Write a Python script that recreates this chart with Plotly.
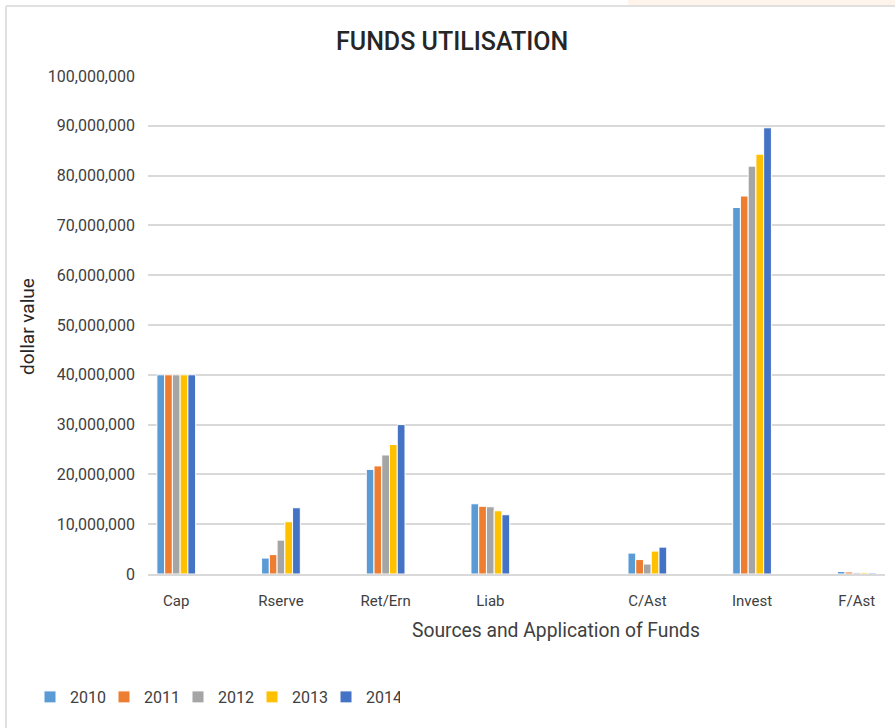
import plotly.graph_objects as go

categories = ["Cap", "Rserve", "Ret/Ern", "Liab", "C/Ast", "Invest", "F/Ast"]
cat_pos = [0, 1, 2, 3, 4.5, 5.5, 6.5]
years = ["2010", "2011", "2012", "2013", "2014"]
v2010 = [40000000, 3200000, 21000000, 14100000, 4200000, 73600000, 500000]
v2011 = [40000000, 3900000, 21700000, 13600000, 2900000, 75900000, 400000]
v2012 = [40000000, 6800000, 23900000, 13500000, 2000000, 81900000, 250000]
v2013 = [40000000, 10500000, 26000000, 12700000, 4600000, 84300000, 250000]
v2014 = [40000000, 13300000, 30000000, 11900000, 5400000, 89600000, 200000]
series = [v2010, v2011, v2012, v2013, v2014]
colors = ["#5B9BD5", "#ED7D31", "#A5A5A5", "#FFC000", "#4472C4"]
y_ticks = list(range(0, 100000001, 10000000))

FONT = "Roboto, Arial, sans-serif"
TXT = "#404040"

fig = go.Figure()
for name, vals, c in zip(years, series, colors):
    fig.add_trace(go.Bar(
        x=cat_pos, y=vals, name=name,
        marker=dict(color=c, line=dict(color="white", width=1)),
    ))

W, H = 895, 728
L, R, T, B = 148, 885, 76, 574
pw, ph = R - L, B - T

def px(x):
    return (x - L) / pw

def py(y):
    return (B - y) / ph

fig.update_layout(
    width=W, height=H,
    margin=dict(l=L, r=W - R, t=T, b=H - B, pad=0),
    paper_bgcolor="white", plot_bgcolor="white",
    barmode="group", bargap=0.63, bargroupgap=0,
    showlegend=True,
    legend=dict(orientation="h", x=px(30), y=py(697), xanchor="left", yanchor="middle",
                font=dict(family=FONT, size=16, color=TXT), itemwidth=30,
                entrywidth=29, entrywidthmode="pixels",
                traceorder="normal", bgcolor="rgba(0,0,0,0)"),
    font=dict(family=FONT, color=TXT),
    xaxis=dict(
        range=[-0.27, 6.77], tickmode="array", tickvals=cat_pos, ticktext=categories,
        showgrid=False, zeroline=False, showline=True, linecolor="#D9D9D9", linewidth=1.5,
        ticks="", tickfont=dict(family=FONT, size=15, color=TXT), ticklabelstandoff=12,
    ),
    yaxis=dict(
        range=[0, 100000000], tickmode="array", tickvals=y_ticks,
        tickformat=",d", showgrid=True, gridcolor="#D9D9D9", gridwidth=1.5,
        zeroline=False, showline=False, ticks="",
        tickfont=dict(family=FONT, size=16, color=TXT), ticklabelstandoff=12,
    ),
    annotations=[
        dict(text="FUNDS UTILISATION", xref="paper", yref="paper", x=px(452), y=py(41),
             showarrow=False, xanchor="center", yanchor="middle",
             font=dict(family=FONT, size=25, color="#262626", weight=500)),
        dict(text="dollar value", xref="paper", yref="paper", x=px(27), y=py(327),
             showarrow=False, xanchor="center", yanchor="middle", textangle=-90,
             font=dict(family=FONT, size=19, color="#262626")),
        dict(text="Sources and Application of Funds", xref="paper", yref="paper",
             x=px(556), y=py(630), showarrow=False, xanchor="center", yanchor="middle",
             font=dict(family=FONT, size=19.3, color=TXT)),
    ],
    shapes=[
        dict(type="rect", xref="paper", yref="paper", x0=px(628), x1=px(900), y0=py(0), y1=py(5),
             fillcolor="#FEF4EC", line=dict(width=0), layer="below"),
        dict(type="line", xref="paper", yref="paper", x0=px(6), x1=px(900), y0=py(6), y1=py(6),
             line=dict(color="#E0E0E0", width=2)),
        dict(type="line", xref="paper", yref="paper", x0=px(6), x1=px(6), y0=py(6), y1=py(735),
             line=dict(color="#E0E0E0", width=2)),
    ],
)

fig.write_html("out.html", config={"displayModeBar": False},
               post_script="document.body.style.margin='0';")
